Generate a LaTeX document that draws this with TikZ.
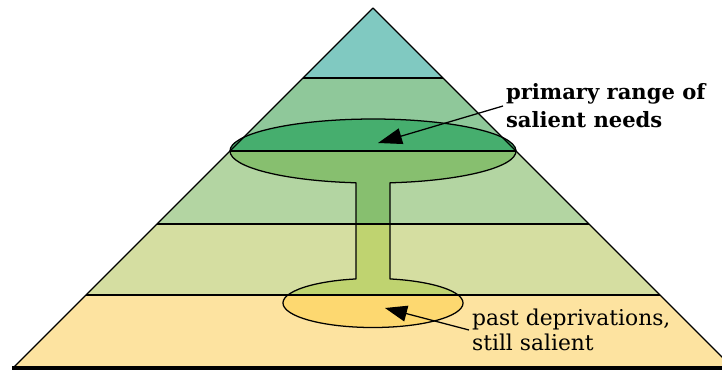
\documentclass[tikz,border=0pt]{standalone}
\usepackage{fontspec}
\setmainfont{DejaVu Serif}
\usetikzlibrary{arrows.meta}

\definecolor{tierA}{RGB}{128,201,193}
\definecolor{tierB}{RGB}{143,200,154}
\definecolor{tierC}{RGB}{179,213,162}
\definecolor{tierD}{RGB}{213,222,161}
\definecolor{tierE}{RGB}{253,227,160}
\definecolor{cupB}{RGB}{70,174,110}
\definecolor{cupC}{RGB}{135,191,111}
\definecolor{cupD}{RGB}{191,211,112}
\definecolor{cupE}{RGB}{253,216,112}

% outline of the pyramid and of the goblet (two ellipses joined by a stem)
\newcommand\pyramidpath{(373,363) -- (14,4) -- (732,4) -- cycle}
\newcommand\gobletpath{(230,220)
  arc[start angle=180, end angle=263.17, x radius=3.575cm, y radius=0.8cm]
  -- (356,92.06)
  arc[start angle=100.89, end angle=439.11, x radius=2.25cm, y radius=0.6125cm]
  -- (390,188.2)
  arc[start angle=276.83, end angle=540, x radius=3.575cm, y radius=0.8cm]
  -- cycle}

\begin{document}
\begin{tikzpicture}[
  x=0.025cm, y=0.025cm,
  >={Triangle[length=6mm, width=4mm]},
  edge/.style={draw=black, line width=0.9pt, line join=round},
  pointer/.style={->, line width=0.9pt, draw=black},
  tagbig/.style={font=\fontsize{15}{20}\selectfont\bfseries, align=left, inner sep=2pt},
  tagsmall/.style={font=\fontsize{15.5}{17.5}\selectfont, align=left, inner sep=2pt}
]
\useasboundingbox (0,0) rectangle (722,371);
\clip (0,0) rectangle (722,371);

% tiers of the pyramid
\begin{scope}
  \clip \pyramidpath;
  \fill[tierE] (0,0) rectangle (740,76);
  \fill[tierD] (0,76) rectangle (740,147);
  \fill[tierC] (0,147) rectangle (740,220);
  \fill[tierB] (0,220) rectangle (740,293);
  \fill[tierA] (0,293) rectangle (740,371);
\end{scope}

% goblet of salient needs
\begin{scope}
  \clip \gobletpath;
  \fill[cupE] (0,0) rectangle (740,76);
  \fill[cupD] (0,76) rectangle (740,147);
  \fill[cupC] (0,147) rectangle (740,220);
  \fill[cupB] (0,220) rectangle (740,293);
\end{scope}

% tier borders
\draw[edge] (303,293) -- (443,293);
\draw[edge] (230,220) -- (516,220);
\draw[edge] (157,147) -- (589,147);
\draw[edge] (86,76) -- (660,76);

\draw[edge] \gobletpath;
\draw[edge] (14,4) -- (373,363) -- (732,4);
\draw[line width=2.2pt] (12,3) -- (722,3);

% labels
\node[tagbig, anchor=west] (needs) at (503,265) {primary range of\\salient needs};
\node[tagsmall, anchor=west] (past) at (469,41) {past deprivations,\\still salient};

\coordinate (needtip) at (378,228);
\coordinate (pasttip) at (385,63);

\draw[pointer] (needs.west) -- (needtip);
\draw[pointer, >={Triangle[length=5.5mm, width=4mm]}] (past.west) -- (pasttip);

\end{tikzpicture}
\end{document}
